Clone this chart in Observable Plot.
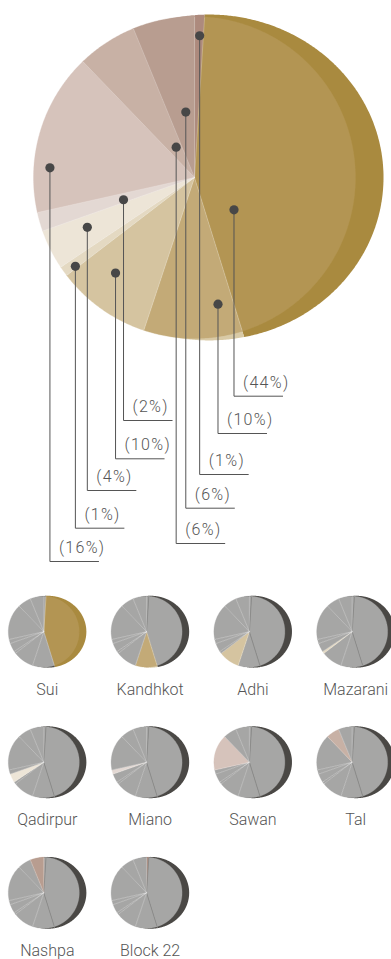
<!DOCTYPE html>
<html><head><meta charset="utf-8">
<script src="https://cdn.jsdelivr.net/npm/d3@7"></script>
<script src="https://cdn.jsdelivr.net/npm/@observablehq/plot@0.6"></script>
<style>
html,body{margin:0;padding:0;background:#fff;}
#chart svg{display:block;}
#chart g[aria-description="pct"] text{letter-spacing:1.3px;}
</style>
</head><body><div id="chart"></div>
<script>
// ---- data ----
const fields = ["Sui","Kandhkot","Adhi","Mazarani","Qadirpur","Miano","Sawan","Tal","Nashpa","Block 22"];
const shares = [44.2, 9.9, 9.5, 1.0, 4.0, 1.9, 16.3, 6.0, 6.2, 1.0];
// clockwise from 12 o'clock
const pieOrder = ["Block 22","Sui","Kandhkot","Adhi","Mazarani","Qadirpur","Miano","Sawan","Tal","Nashpa"];

// ---- styles ----
const faceColors = {"Sui":"#b39553","Kandhkot":"#c3aa77","Adhi":"#d5c4a0","Mazarani":"#e4d9c2","Qadirpur":"#ede5d7",
  "Miano":"#e3d8d3","Sawan":"#d6c3bb","Tal":"#c8b1a5","Nashpa":"#b89d90","Block 22":"#ad8a7d"};
const sideColors = {"Sui":"#a98a3f","Kandhkot":"#d9caa6","Adhi":"#d5c4a0","Mazarani":"#e4d9c2","Qadirpur":"#ede5d7",
  "Miano":"#e3d8d3","Sawan":"#d6c3bb","Tal":"#c8b1a5","Nashpa":"#b89d90","Block 22":"#ad8a7d"};
const grey = "#a6a6a5", greySide = "#4a4845";

// ---- label layout (fraction of slice angle, fraction of radius, leader end) ----
const anchorFrac   = {"Block 22":0.58,"Sui":0.79,"Kandhkot":0.19,"Adhi":0.62,"Mazarani":0.2,"Qadirpur":0.62,"Miano":0.3,"Sawan":0.28,"Tal":0.59,"Nashpa":0.66};
const anchorRadius = {"Block 22":0.881,"Sui":0.317,"Kandhkot":0.8,"Adhi":0.77,"Mazarani":0.923,"Qadirpur":0.734,"Miano":0.462,"Sawan":0.9,"Tal":0.22,"Nashpa":0.41};
const leaderEnd    = {"Sui":395.7,"Kandhkot":433,"Block 22":474,"Nashpa":507.7,"Tal":543,"Miano":420,"Adhi":458.3,"Qadirpur":490,"Mazarani":527.7,"Sawan":561};

const W = 391, H = 959;
const BIG = {cx:194, cy:177, r:161, sdx:0.09};
const SMALL = {x0:43.3, dx:102.8, y0:631.2, dy:130.55, r:35.5, cols:4, sdx:0.115};
const SIDE = {rx:1.084, ry:1.012};

const shareOf = Object.fromEntries(fields.map((f,i)=>[f,shares[i]]));
const total = d3.sum(shares);
const angles = {};
{ let a = 0; for (const f of pieOrder) { const s = shareOf[f]/total*360; angles[f] = [a, a+s]; a += s; } }

const rad = d => d*Math.PI/180;
function rimDist(r, a, sdx) {
  if (sdx == null) return r;
  const u = Math.sin(a), v = -Math.cos(a);
  const ox = sdx*r, rx = SIDE.rx*r, ry = SIDE.ry*r;
  const A = u*u/(rx*rx) + v*v/(ry*ry), B = -2*u*ox/(rx*rx), C = ox*ox/(rx*rx) - 1;
  return (-B + Math.sqrt(B*B - 4*A*C))/(2*A);
}
function sector(key, cx, cy, r, a0, a1, fill, sdx) {
  const pts = [{key, x:cx, y:cy, fill}];
  const n = Math.max(2, Math.ceil((a1-a0)/0.5));
  for (let k=0;k<=n;k++) {
    const a = rad(a0 + (a1-a0)*k/n), t = rimDist(r, a, sdx);
    pts.push({key, x:cx + t*Math.sin(a), y:cy - t*Math.cos(a), fill});
  }
  return pts;
}
function radius(key, cx, cy, r, a, stroke, opacity) {
  const t = rad(a);
  return [{key, x:cx, y:cy, stroke, opacity}, {key, x:cx + r*Math.sin(t), y:cy - r*Math.cos(t), stroke, opacity}];
}

// big pie
const bigSide = [], bigFace = [], bigSep = [];
for (const f of pieOrder) {
  const [a0,a1] = angles[f];
  bigSide.push(...sector("bs"+f, BIG.cx, BIG.cy, BIG.r, a0, a1, sideColors[f], BIG.sdx));
  bigFace.push(...sector("bf"+f, BIG.cx, BIG.cy, BIG.r, a0, a1, faceColors[f], null));
  bigSep.push(...radius("bl"+f, BIG.cx, BIG.cy, BIG.r - 0.5, a0, "#ffffff", 0.3));
}
// anchors
const anchors = pieOrder.map(f => {
  const [a0,a1] = angles[f];
  const a = rad(a0 + (a1-a0)*anchorFrac[f]);
  const rr = anchorRadius[f]*BIG.r;
  return {f, x: BIG.cx + rr*Math.sin(a), y: BIG.cy - rr*Math.cos(a), end: leaderEnd[f],
          label: `(${Math.round(shareOf[f])}%)`};
});
const leaders = anchors.flatMap(d => [
  {f:d.f, x:d.x, y:d.y}, {f:d.f, x:d.x, y:d.end}, {f:d.f, x:d.x+49, y:d.end}
]);

// small multiples
const smallSide = [], smallFace = [], smallSep = [], smallLabels = [];
fields.forEach((field, i) => {
  const cx = SMALL.x0 + SMALL.dx*(i % SMALL.cols), cy = SMALL.y0 + SMALL.dy*Math.floor(i / SMALL.cols);
  for (const f of pieOrder) {
    const [a0,a1] = angles[f];
    smallSide.push(...sector(`ss${i}${f}`, cx, cy, SMALL.r, a0, a1, f===field ? sideColors[f] : greySide, SMALL.sdx));
    smallFace.push(...sector(`sf${i}${f}`, cx, cy, SMALL.r, a0, a1, f===field ? faceColors[f] : grey, null));
  }
  for (const f of pieOrder) {
    const [a0] = angles[f];
    const suiEdge = (f === "Sui" || f === "Kandhkot") && field !== "Sui" && field !== f;
    smallSep.push(...radius(`sl${i}${f}`, cx, cy, SMALL.r - 0.3, a0,
      suiEdge ? "#7a7a79" : "#ffffff", suiEdge ? 0.9 : 0.5));
  }
  smallLabels.push({field, x: cx + 3.5, y: cy + 63});
});

const font = "Roboto, 'Open Sans', sans-serif";
const chart = Plot.plot({
  width: W, height: H, margin: 0,
  x: {domain:[0,W], range:[0,W], axis:null},
  y: {domain:[0,H], range:[0,H], axis:null},
  color: {type:"identity"},
  opacity: {type:"identity"},
  style: {fontFamily: font, background:"#fff"},
  marks: [
    Plot.line(bigSide, {x:"x", y:"y", z:"key", fill:"fill", stroke:"none", curve:"linear-closed"}),
    Plot.line(bigFace, {x:"x", y:"y", z:"key", fill:"fill", stroke:"fill", strokeWidth:0.3, curve:"linear-closed"}),
    Plot.line(bigSep, {x:"x", y:"y", z:"key", stroke:"stroke", strokeOpacity:"opacity", strokeWidth:0.8, strokeLinecap:"butt"}),
    Plot.line(leaders, {x:"x", y:"y", z:"f", stroke:"#555", strokeWidth:1, strokeLinecap:"butt", strokeLinejoin:"miter"}),
    Plot.dot(anchors, {x:"x", y:"y", r:4.6, fill:"#474747", stroke:"none"}),
    Plot.text(anchors, {x: d => d.x + 9, y: d => d.end - 8.5, text:"label", textAnchor:"start", lineAnchor:"bottom",
      fontSize:16, fontWeight:300, fill:"#555", ariaDescription:"pct"}),
    Plot.line(smallSide, {x:"x", y:"y", z:"key", fill:"fill", stroke:"none", curve:"linear-closed"}),
    Plot.line(smallFace, {x:"x", y:"y", z:"key", fill:"fill", stroke:"fill", strokeWidth:0.3, curve:"linear-closed"}),
    Plot.line(smallSep, {x:"x", y:"y", z:"key", stroke:"stroke", strokeOpacity:"opacity", strokeWidth:0.6, strokeLinecap:"butt"}),
    Plot.text(smallLabels, {x:"x", y:"y", text:"field", textAnchor:"middle", lineAnchor:"bottom",
      fontSize:16, fontWeight:300, fill:"#555"})
  ]
});
document.getElementById("chart").appendChild(chart);
</script>
</body></html>
